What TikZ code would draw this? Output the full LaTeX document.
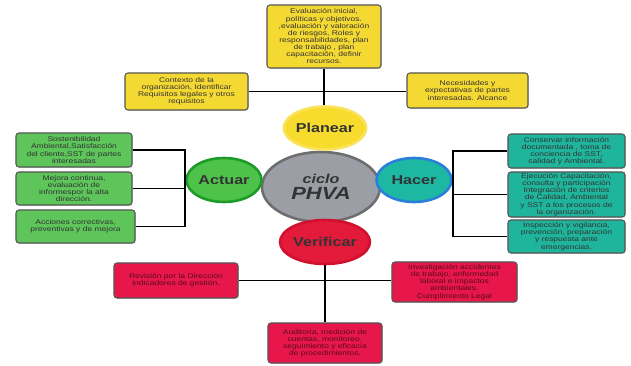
\documentclass[tikz,border=0pt]{standalone}
\usepackage{fontspec}
\setmainfont{Liberation Sans}
\newfontfamily\anchafont{Liberation Sans}[FakeStretch=1.25]
\usepackage{tikz}
\usetikzlibrary{shapes.geometric,shadows}
\definecolor{amarillo}{HTML}{F5D933}
\definecolor{verde}{HTML}{5DC55A}
\definecolor{turquesa}{HTML}{1FB59C}
\definecolor{rojo}{HTML}{E8174B}
\definecolor{borde}{HTML}{555555}
\definecolor{texto}{HTML}{333333}
\definecolor{textorojo}{HTML}{5A0A19}
\definecolor{gris}{HTML}{9B9EA5}
\definecolor{grisborde}{HTML}{6E6E70}

\begin{document}
\begin{tikzpicture}[x=0.03cm,y=-0.03cm,
    caja/.style={draw=borde,line width=0.9pt,rounded corners=2.5pt,align=center,inner sep=1pt,
      text=texto,font=\anchafont\fontsize{5.8}{6.1}\selectfont,
      drop shadow={opacity=0.25,shadow xshift=0.8pt,shadow yshift=-0.8pt}},
    fase/.style={ellipse,line width=2.2pt,inner sep=0pt,text=texto,
      font=\anchafont\bfseries\fontsize{11}{12}\selectfont},
    linea/.style={line width=1.6pt}]
    \useasboundingbox[fill=white] (0,0) rectangle (631,366);
    % ciclo y fases
    \node[fase,draw=grisborde,fill=gris,minimum width=3.54cm,minimum height=2.10cm,
      font=\anchafont\bfseries\itshape\fontsize{15}{14}\selectfont,align=center] (centro) at (321,187)
      {{\fontsize{11}{11}\selectfont ciclo}\\PHVA};
    \node[fase,draw={rgb,255:red,250;green,226;blue,90},fill={rgb,255:red,247;green,220;blue,46},
      minimum width=2.31cm,minimum height=1.29cm] (planear) at (325,128) {Planear};
    \node[fase,draw={rgb,255:red,30;green,154;blue,42},fill={rgb,255:red,78;green,194;blue,74},
      minimum width=2.25cm,minimum height=1.32cm] (actuar) at (224,180) {Actuar};
    \node[fase,draw={rgb,255:red,42;green,127;blue,217},fill={rgb,255:red,28;green,184;blue,162},
      minimum width=2.25cm,minimum height=1.32cm] (hacer) at (414,180) {Hacer};
    \node[fase,draw={rgb,255:red,208;green,16;blue,46},fill={rgb,255:red,227;green,26;blue,58},
      minimum width=2.40cm,minimum height=1.32cm] (verificar) at (325,242) {Verificar};
    % planear
    \node[caja,fill=amarillo,minimum width=3.42cm,minimum height=1.89cm] (eval) at (324,36.5)
      {Evaluación inicial,\\ políticas y objetivos.\\ ,evaluación y valoración\\ de riesgos, Roles y\\
       responsabilidades, plan\\ de trabajo , plan\\ capacitación, definir\\ recursos.};
    \node[caja,fill=amarillo,minimum width=3.69cm,minimum height=1.11cm] (contexto) at (186.5,91.5)
      {Contexto de la\\ organización, Identificar\\ Requisitos legales y otros\\ requisitos};
    \node[caja,fill=amarillo,minimum width=3.63cm,minimum height=1.05cm] (necesidades) at (467.5,90.5)
      {Necesidades y\\ expectativas de partes\\ interesadas. Alcance};
    % actuar
    \node[caja,fill=verde,minimum width=3.48cm,minimum height=1.02cm] (sostenibilidad) at (74,150)
      {Sostenibilidad\\ Ambiental,Satisfacción\\ del cliente,SST de partes\\ interesadas};
    \node[caja,fill=verde,minimum width=3.48cm,minimum height=0.99cm] (mejora) at (74,188.5)
      {Mejora continua,\\ evaluación de\\ informespor la alta\\ dirección.};
    \node[caja,fill=verde,minimum width=3.57cm,minimum height=0.99cm] (acciones) at (75.5,226.5)
      {Acciones correctivas,\\ preventivas y de mejora};
    % hacer
    \node[caja,fill=turquesa,minimum width=3.51cm,minimum height=1.02cm] (conservar) at (566.5,151)
      {Conservar información\\ documentada , toma de\\ conciencia de SST,\\ calidad y Ambiental.};
    \node[caja,fill=turquesa,minimum width=3.51cm,minimum height=1.35cm] (ejecucion) at (566.5,194.5)
      {Ejecución Capacitación,\\ consulta y participación\\ Integración de criterios\\
       de Calidad, Ambiental\\ y SST a los procesos de\\ la organización.};
    \node[caja,fill=turquesa,minimum width=3.51cm,minimum height=0.99cm] (inspeccion) at (566.5,236.5)
      {Inspección y vigilancia,\\ prevención, preparación\\ y respuesta ante\\ emergencias.};
    % verificar
    \node[caja,fill=rojo,text=textorojo,minimum width=3.72cm,minimum height=1.05cm] (revision) at (176,280.5)
      {Revisión por la Dirección\\ indicadores de gestión.};
    \node[caja,fill=rojo,text=textorojo,minimum width=3.75cm,minimum height=1.20cm] (investigacion) at (454.5,282)
      {Investigación accidentes\\ de trabajo, enfermedad\\ laboral e impactos\\ ambientales.\\ Cumplimiento Legal};
    \node[caja,fill=rojo,text=textorojo,minimum width=3.42cm,minimum height=1.20cm] (auditoria) at (325,343)
      {Auditoria, medición de\\ cuentas, monitoreo,\\ seguimiento y eficacia\\ de procedimientos.};
    % conectores
    \draw[linea] (eval.south) -- (eval.south |- planear.north);
    \draw[linea] (contexto.east) -- (contexto.east -| necesidades.west);
    \draw[linea] (sostenibilidad.east) -- (sostenibilidad.east -| actuar.west)
      -- (acciones.east -| actuar.west) -- (acciones.east);
    \draw[linea] (mejora.east) -- (mejora.east -| actuar.west);
    \draw[linea] (conservar.west) -- (conservar.west -| hacer.east)
      -- (inspeccion.west -| hacer.east) -- (inspeccion.west);
    \draw[linea] (ejecucion.west) -- (ejecucion.west -| hacer.east);
    \draw[linea] (verificar.south) -- (verificar.south |- auditoria.north);
    \draw[linea] (revision.east) -- (revision.east -| investigacion.west);
\end{tikzpicture}
\end{document}
